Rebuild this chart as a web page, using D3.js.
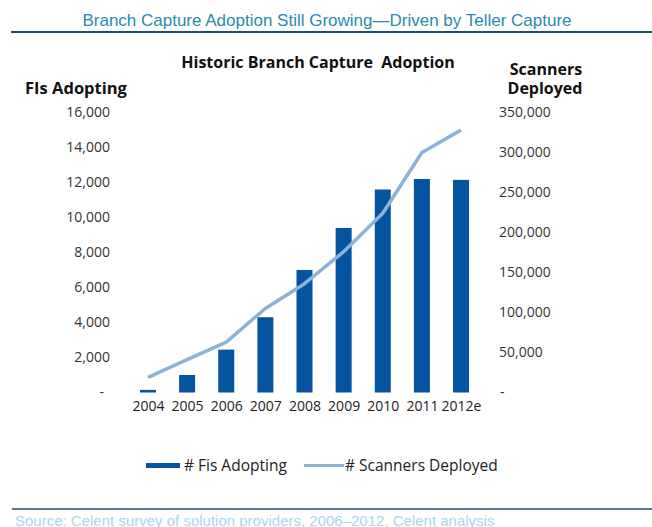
<!DOCTYPE html>
<html>
<head>
<meta charset="utf-8">
<script src="https://cdn.jsdelivr.net/npm/d3@7"></script>
<style>
  html, body { margin: 0; padding: 0; background: #fff; }
  svg { display: block; }
</style>
</head>
<body>
<svg id="chart" width="652" height="527"></svg>
<script>
const categories = ["2004", "2005", "2006", "2007", "2008", "2009", "2010", "2011", "2012e"];
const fisAdopting = [150, 1000, 2450, 4300, 7000, 9400, 11600, 12200, 12150];
const scannersDeployed = [19000, 41000, 63000, 105000, 136000, 176000, 224000, 300000, 328000];
const leftTicks = [0, 2000, 4000, 6000, 8000, 10000, 12000, 14000, 16000];
const rightTicks = [0, 50000, 100000, 150000, 200000, 250000, 300000, 350000];

const svg = d3.select("#chart");
const numFmt = v => v === 0 ? "-" : d3.format(",")(v);

// Header
svg.append("text").attr("x", 327).attr("y", 26).attr("text-anchor", "middle")
  .attr("font-family", "Liberation Sans, Arial, sans-serif").attr("font-size", 17)
  .attr("fill", "#2a8ab2").text("Branch Capture Adoption Still Growing\u2014Driven by Teller Capture");
svg.append("line").attr("x1", 11).attr("x2", 652).attr("y1", 32).attr("y2", 32)
  .attr("stroke", "#1d4f6c").attr("stroke-width", 2);

const boldFont = "Open Sans, Segoe UI, sans-serif";
svg.append("text").attr("x", 318).attr("y", 68).attr("text-anchor", "middle")
  .style("white-space", "pre")
  .attr("font-family", boldFont).attr("font-weight", "bold").attr("font-size", 16)
  .attr("fill", "#111").text("Historic Branch Capture  Adoption");
svg.append("text").attr("x", 76).attr("y", 94).attr("text-anchor", "middle")
  .attr("font-family", boldFont).attr("font-weight", "bold").attr("font-size", 16.5)
  .attr("fill", "#111").text("FIs Adopting");
svg.append("text").attr("x", 546).attr("y", 75).attr("text-anchor", "middle")
  .attr("font-family", boldFont).attr("font-weight", "bold").attr("font-size", 16)
  .attr("fill", "#111").text("Scanners");
svg.append("text").attr("x", 545).attr("y", 94).attr("text-anchor", "middle")
  .attr("font-family", boldFont).attr("font-weight", "bold").attr("font-size", 16)
  .attr("fill", "#111").text("Deployed");

// Scales
const x = d3.scalePoint().domain(categories).range([128.4, 480.6]).padding(0.5);
const yL = d3.scaleLinear().domain([0, 16000]).range([392.5, 112.5]);
const yR = d3.scaleLinear().domain([0, 350000]).range([392.5, 112.5]);
const barW = 16;

const tickFont = "Open Sans, Segoe UI, sans-serif";

// Left axis
const axL = d3.axisLeft(yL).tickValues(leftTicks).tickFormat(numFmt).tickSize(0).tickPadding(0);
const gL = svg.append("g").attr("transform", "translate(110,0)").call(axL);
gL.select(".domain").remove();
gL.selectAll("text").attr("font-family", tickFont).attr("font-size", 14).attr("fill", "#333")
  .attr("dx", d => d === 0 ? -6 : 0);

// Right axis
const axR = d3.axisRight(yR).tickValues(rightTicks).tickFormat(numFmt).tickSize(0).tickPadding(0);
const gR = svg.append("g").attr("transform", "translate(499,0)").call(axR);
gR.select(".domain").remove();
gR.selectAll("text").attr("font-family", tickFont).attr("font-size", 14).attr("fill", "#333")
  .attr("dx", d => d === 0 ? 1 : 0);

// X axis
const axX = d3.axisBottom(x).tickSize(0).tickPadding(0);
const gX = svg.append("g").attr("transform", "translate(0,401)").call(axX);
gX.select(".domain").remove();
gX.selectAll("text").attr("font-family", tickFont).attr("font-size", 14).attr("fill", "#222")
  .attr("dy", "0.71em");

// Bars
svg.append("g").selectAll("rect").data(categories).join("rect")
  .attr("x", (d) => x(d) - barW / 2)
  .attr("width", barW)
  .attr("y", (d, i) => yL(fisAdopting[i]))
  .attr("height", (d, i) => yL(0) - yL(fisAdopting[i]))
  .attr("fill", "#0454a0");

// Line
const line = d3.line().x((d, i) => x(categories[i])).y(d => yR(d));
svg.append("path").datum(scannersDeployed).attr("d", line)
  .attr("fill", "none").attr("stroke", "#8cb2d6").attr("stroke-width", 3.5)
  .attr("stroke-linejoin", "round");

// Legend
const lg = svg.append("g");
lg.append("rect").attr("x", 146).attr("y", 463).attr("width", 34).attr("height", 5).attr("fill", "#0454a0");
lg.append("text").attr("x", 184).attr("y", 471).attr("font-family", tickFont).attr("font-size", 15.5)
  .attr("fill", "#222").text("# Fis Adopting");
lg.append("line").attr("x1", 304).attr("x2", 344).attr("y1", 465.5).attr("y2", 465.5)
  .attr("stroke", "#8cb2d6").attr("stroke-width", 3);
lg.append("text").attr("x", 345).attr("y", 471).attr("font-family", tickFont).attr("font-size", 15.5)
  .attr("fill", "#222").text("# Scanners Deployed");

// Footer
svg.append("line").attr("x1", 12).attr("x2", 652).attr("y1", 509).attr("y2", 509)
  .attr("stroke", "#1d4f6c").attr("stroke-width", 1.5);
svg.append("text").attr("x", 15).attr("y", 526)
  .attr("font-family", "Liberation Sans, Arial, sans-serif").attr("font-size", 15)
  .attr("fill", "#a9d6ea").text("Source: Celent survey of solution providers, 2006\u20132012, Celent analysis");
</script>
</body>
</html>
